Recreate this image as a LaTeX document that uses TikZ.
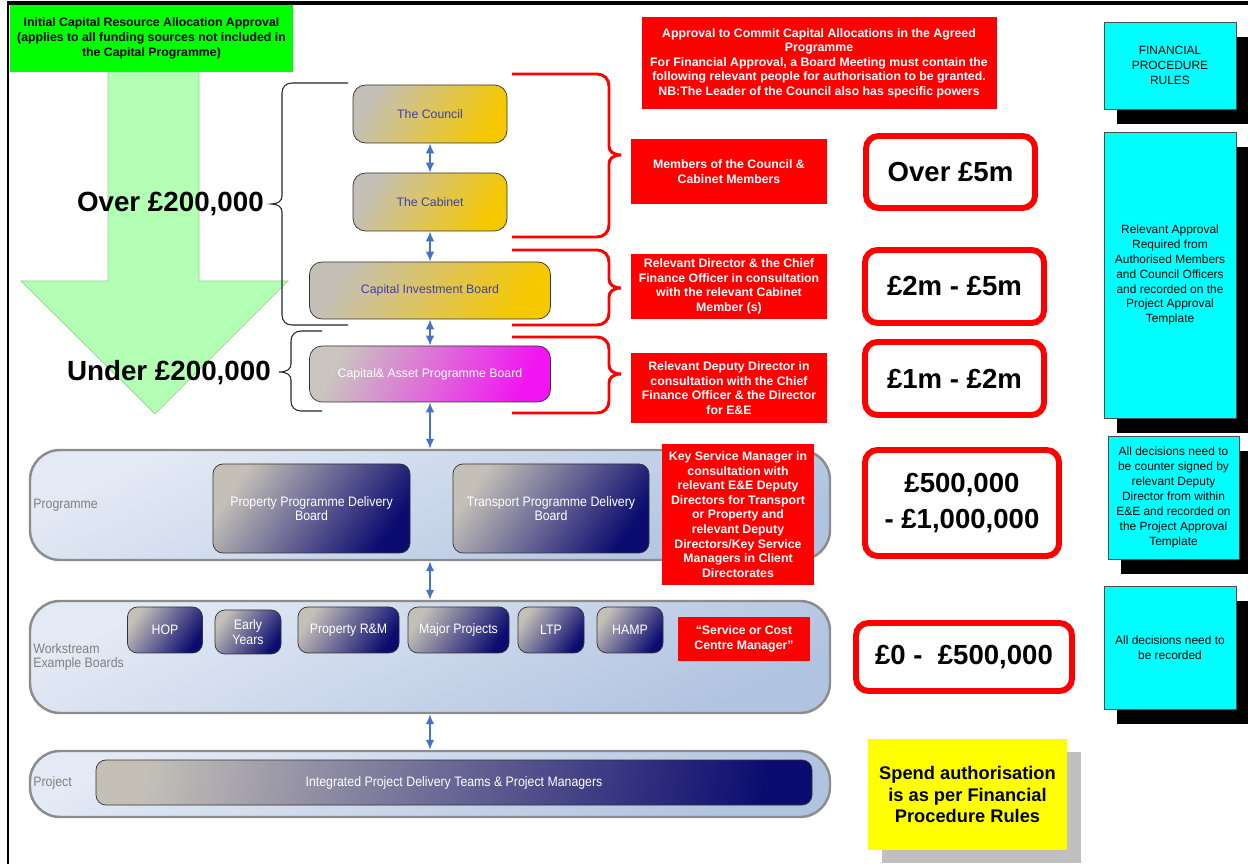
\documentclass[tikz,border=0pt]{standalone}
\usepackage{fontspec}
\setmainfont{Liberation Sans}
\newfontfamily\narrowfont[FakeStretch=0.9]{Liberation Sans}
\usetikzlibrary{arrows.meta,shadows}
\definecolor{hdrgreen}{RGB}{0,255,0}
\definecolor{palegreen}{RGB}{179,255,179}
\definecolor{edgegreen}{RGB}{150,205,150}
\definecolor{boxred}{RGB}{255,0,0}
\definecolor{cyanbox}{RGB}{0,255,255}
\definecolor{linkblue}{RGB}{68,114,196}
\definecolor{tiergray}{RGB}{196,192,184}
\definecolor{tiergold}{RGB}{246,200,0}
\definecolor{tiermag}{RGB}{242,20,242}
\definecolor{tiernavy}{RGB}{12,12,112}
\definecolor{bandlt}{RGB}{228,234,245}
\definecolor{banddk}{RGB}{176,195,224}
\definecolor{bandedge}{RGB}{140,140,140}
\definecolor{slate}{RGB}{64,64,160}
\definecolor{spendyel}{RGB}{255,255,0}
\definecolor{shadegray}{RGB}{192,192,192}
\tikzset{
  >={Latex[length=2mm,width=1.7mm]},
  sz/.style 2 args={minimum width=#1*0.02cm,minimum height=#2*0.02cm},
  tier/.style={draw=black!80,rounded corners=0.25cm,inner sep=0pt,align=center,font=\fontsize{7}{8.5}\selectfont},
  gbox/.style={tier,top color=tiergray,bottom color=tiergold,shading angle=60,text=slate},
  mbox/.style={tier,top color=tiergray!90,bottom color=tiermag,shading angle=65,text=white},
  nbox/.style={tier,rounded corners=0.2cm,top color=tiergray,bottom color=tiernavy,shading angle=55,text=white,font=\narrowfont\fontsize{7.8}{8.4}\selectfont},
  band/.style={draw=bandedge,line width=1.4pt,rounded corners=0.6cm,top color=bandlt,bottom color=banddk,shading angle=25,inner sep=0pt},
  lab/.style={anchor=west,inner sep=0pt,text=gray,align=left,font=\narrowfont\fontsize{7.8}{8.4}\selectfont},
  rb/.style={fill=boxred,text=white,inner sep=0pt,align=center,font=\bfseries\fontsize{7}{8.3}\selectfont},
  amt/.style={draw=boxred,fill=white,line width=3.4pt,rounded corners=0.25cm,inner sep=0pt,align=center,font=\bfseries\fontsize{15.7}{20.8}\selectfont},
  cy/.style={draw=black!70,fill=cyanbox,inner sep=0pt,align=center,font=\fontsize{6.8}{8.5}\selectfont,
    drop shadow={fill=black,opacity=1,shadow xshift=0.26cm,shadow yshift=-0.3cm}},
  updown/.style={<->,draw=linkblue,line width=0.9pt},
  brk/.style={black!85,line width=0.6pt},
  rbk/.style={boxred,line width=1.7pt},
  big/.style={anchor=east,font=\bfseries\fontsize{15.8}{19}\selectfont},
}

\begin{document}
\begin{tikzpicture}[x=0.02cm,y=-0.02cm]
\useasboundingbox (0,0) rectangle (1248,864);
% green down arrow behind the thresholds
\draw[fill=palegreen,draw=edgegreen] (108,72) -- (199,72) -- (199,281) -- (288,281) -- (155,414) -- (21,281) -- (108,281) -- cycle;
\node[fill=hdrgreen,sz={283}{67},inner sep=0pt,align=center,font=\bfseries\fontsize{7}{8.5}\selectfont] (initial) at (151.5,38.5)
  {Initial Capital Resource Allocation Approval\\(applies to all funding sources not included in\\the Capital Programme)};

% left braces
\draw[brk] (348,83) -- (292,83) .. controls (286,83) and (282,87) .. (282,93) -- (282,196) .. controls (282,201) and (278,204) .. (271,204)
  .. controls (278,204) and (282,207) .. (282,212) -- (282,315) .. controls (282,321) and (286,325) .. (292,325) -- (348,325);
\draw[brk] (322,331) -- (301,331) .. controls (295,331) and (291,335) .. (291,341) -- (291,364) .. controls (291,369) and (287,372) .. (279,372)
  .. controls (287,372) and (291,375) .. (291,380) -- (291,401) .. controls (291,407) and (295,411) .. (301,411) -- (322,411);
\node[big] (over) at (270,204) {Over £200,000};
\node[big] (under) at (277,373) {Under £200,000};

% right braces
\draw[rbk] (512,74) -- (597,74) .. controls (604,74) and (609,79) .. (609,86) -- (609,146) .. controls (609,151) and (613,155) .. (621,155)
  .. controls (613,155) and (609,159) .. (609,164) -- (609,225) .. controls (609,232) and (604,237) .. (597,237) -- (512,237);
\draw[rbk] (512,250) -- (597,250) .. controls (604,250) and (609,255) .. (609,262) -- (609,279) .. controls (609,284) and (613,288) .. (621,288)
  .. controls (613,288) and (609,292) .. (609,297) -- (609,313) .. controls (609,320) and (604,325) .. (597,325) -- (512,325);
\draw[rbk] (512,337) -- (597,337) .. controls (604,337) and (609,342) .. (609,349) -- (609,365) .. controls (609,370) and (613,374) .. (621,374)
  .. controls (613,374) and (609,378) .. (609,383) -- (609,401) .. controls (609,408) and (604,413) .. (597,413) -- (512,413);

% approval tiers
\node[gbox,sz={154}{58}] (council) at (430,114) {The Council};
\node[gbox,sz={154}{58}] (cabinet) at (430,202) {The Cabinet};
\node[gbox,sz={241}{57}] (cib) at (430,290.5) {Capital Investment Board};
\node[mbox,sz={241}{56}] (asset) at (430,374) {Capital\& Asset Programme Board};

% programme, workstream and project bands
\node[band,sz={800}{110}] (programme) at (430,505) {};
\node[lab] (prglab) at (33,505) {Programme};
\node[nbox,sz={197}{89}] (propdb) at (311.5,508.5) {Property Programme Delivery\\Board};
\node[nbox,sz={196}{89}] (trandb) at (551,508.5) {Transport Programme Delivery\\Board};

\node[band,sz={800}{112}] (workstream) at (430,657) {};
\node[lab] (wslab) at (33,657) {Workstream\\Example Boards};
\node[nbox,sz={75}{46}] (hop) at (165,630) {HOP};
\node[nbox,sz={66}{44}] (early) at (248,632) {Early\\Years};
\node[nbox,sz={101}{46}] (proprm) at (348.5,630) {Property R\&M};
\node[nbox,sz={101}{46}] (major) at (458.5,630) {Major Projects};
\node[nbox,sz={66}{46}] (ltp) at (551,630) {LTP};
\node[nbox,sz={66}{46}] (hamp) at (630,630) {HAMP};

\node[band,sz={800}{66}] (project) at (430,784) {};
\node[lab] (prjlab) at (33,783) {Project};
\node[nbox,sz={716}{45},shading angle=80] (ipdt) at (454,782.5) {Integrated Project Delivery Teams \& Project Managers};

\draw[updown] (council) -- (cabinet); \draw[updown] (cabinet) -- (cib); \draw[updown] (cib) -- (asset);
\draw[updown] (asset) -- (programme); \draw[updown] (programme) -- (workstream); \draw[updown] (workstream) -- (project);

% who signs off
\node[rb,sz={355}{92}] (commit) at (819,63) {Approval to Commit Capital Allocations in the Agreed\\Programme\\For Financial Approval, a Board Meeting must contain the\\following relevant people for authorisation to be granted.\\NB:The Leader of the Council also has specific powers};
\node[rb,sz={196}{65}] (members) at (729,171.5) {Members of the Council \&\\Cabinet Members};
\node[rb,sz={196}{65}] (director) at (729,286.5) {Relevant Director \& the Chief\\Finance Officer in consultation\\with the relevant Cabinet\\Member (s)};
\node[rb,sz={196}{70}] (deputy) at (729,388) {Relevant Deputy Director in\\consultation with the Chief\\Finance Officer \& the Director\\for E\&E};
\node[rb,sz={152}{141}] (keysm) at (738,514.5) {Key Service Manager in\\consultation with\\relevant E\&E Deputy\\Directors for Transport\\or Property and\\relevant Deputy\\Directors/Key Service\\Managers in Client\\Directorates};
\node[rb,sz={132}{44}] (costc) at (744,639) {“Service or Cost\\Centre Manager”};

% limits
\node[amt,sz={169}{72}] (a5m) at (950.5,172) {Over £5m};
\node[amt,sz={179}{73}] (a2m) at (954.5,286.5) {£2m - £5m};
\node[amt,sz={179}{73}] (a1m) at (954.5,378.5) {£1m - £2m};
\node[amt,sz={194}{106}] (a500k) at (962,503) {£500,000\\- £1,000,000};
\node[amt,sz={216}{68}] (a0) at (964,657) {£0 -\ \ £500,000};
\node[fill=spendyel,sz={199}{111},inner sep=0pt,align=center,font=\bfseries\fontsize{10.4}{12.5}\selectfont,
  drop shadow={fill=shadegray,opacity=1,shadow xshift=0.28cm,shadow yshift=-0.26cm}] (spend) at (967.5,794.5)
  {Spend authorisation\\is as per Financial\\Procedure Rules};

% procedure notes
\node[cy,sz={132}{87}] (fpr) at (1170,65.5) {FINANCIAL\\PROCEDURE\\RULES};
\node[cy,sz={132}{286}] (relapp) at (1170,275) {Relevant Approval\\Required from\\Authorised Members\\and Council Officers\\and recorded on the\\Project Approval\\Template};
\node[cy,sz={131}{123}] (counter) at (1173.5,497.5) {All decisions need to\\be counter signed by\\relevant Deputy\\Director from within\\E\&E and recorded on\\the Project Approval\\Template};
\node[cy,sz={132}{123}] (record) at (1170,647.5) {All decisions need to\\be recorded};

% page frame
\draw[line width=1.4pt] (8,864) -- (8,3); \draw[line width=1.8pt] (7,3) -- (1248,3);
\end{tikzpicture}
\end{document}
